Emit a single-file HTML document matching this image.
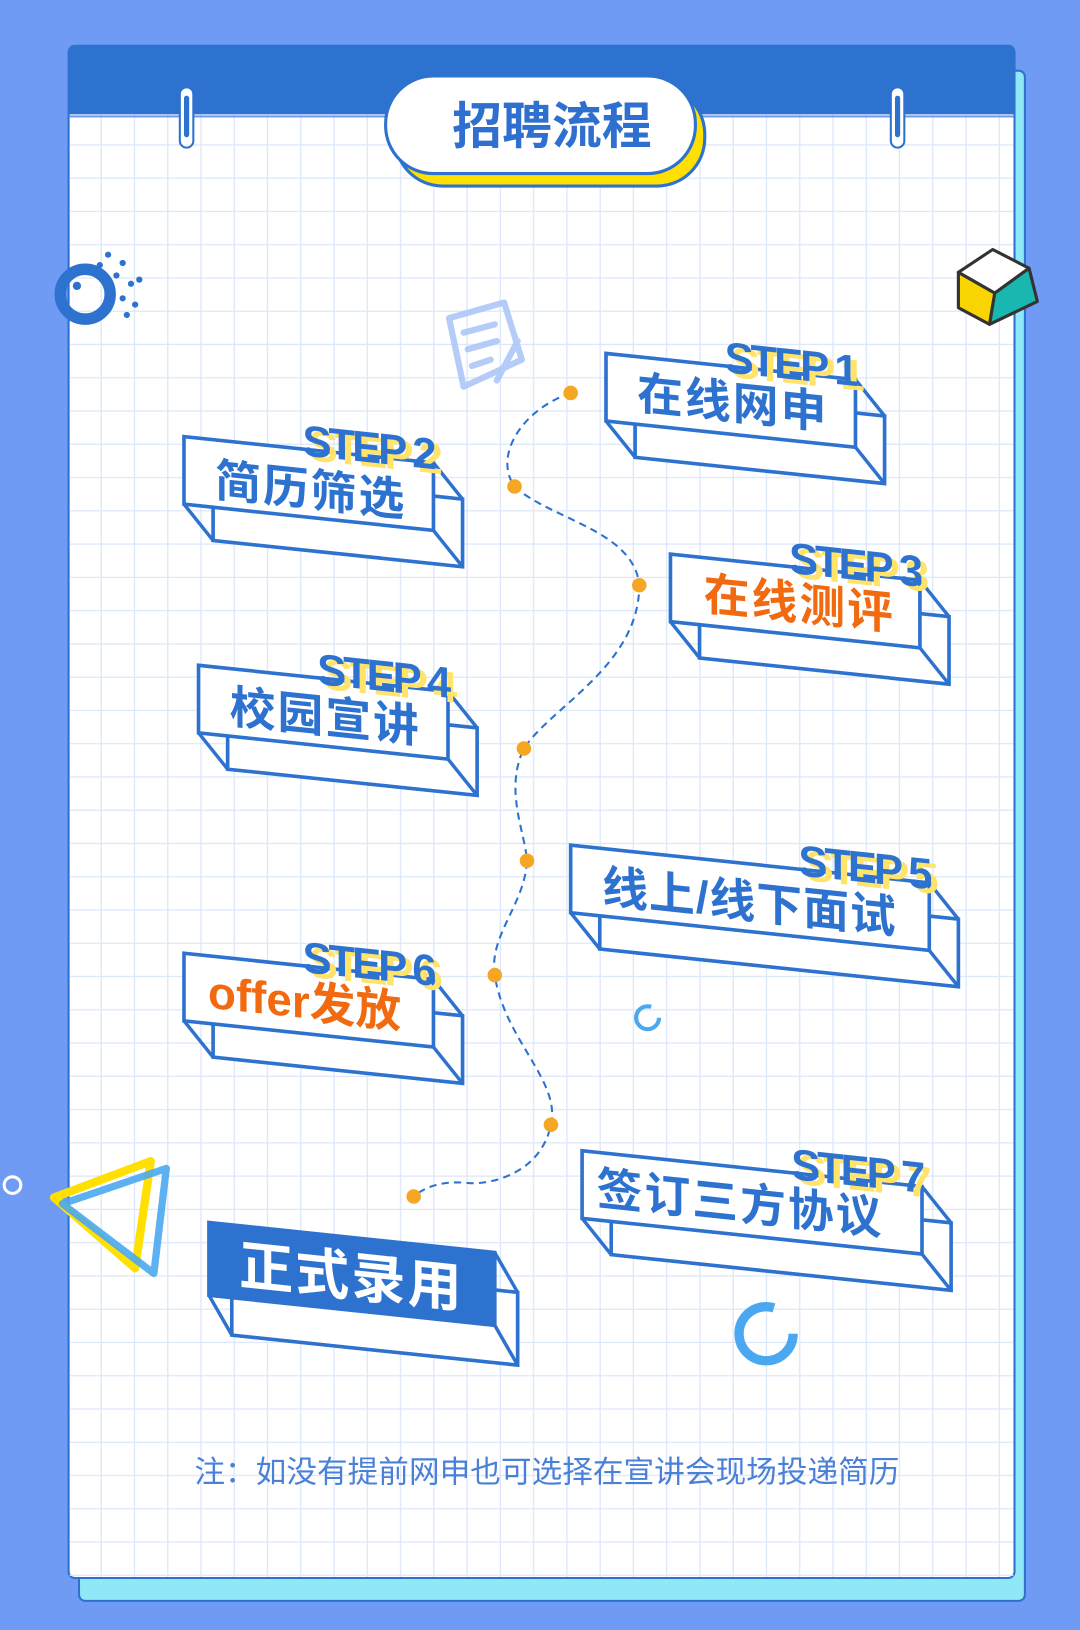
<!DOCTYPE html>
<html><head><meta charset="utf-8"><style>
html,body{margin:0;padding:0;background:#6f9bf5;}
svg{display:block;}
text{font-family:"Liberation Sans","Noto Sans CJK SC",sans-serif;font-weight:bold;}
</style></head><body>
<svg width="1080" height="1630" viewBox="0 0 1039 1568" preserveAspectRatio="none" xmlns="http://www.w3.org/2000/svg">
<defs>
<pattern id="grid" x="66" y="44" width="32" height="32" patternUnits="userSpaceOnUse">
<path d="M32 0V32M0 32H32" stroke="#dce7fb" stroke-width="2.5" fill="none"/>
</pattern>
</defs>
<rect width="1039" height="1568" fill="#6f9bf5"/>
<rect x="76" y="68" width="910" height="1472" rx="6" fill="#8ee8f8" stroke="#2e72cf" stroke-width="2"/>
<rect x="66" y="44" width="910" height="1474" rx="6" fill="#fff" stroke="#2e72cf" stroke-width="2"/>
<rect x="67" y="110" width="908" height="1407" fill="url(#grid)"/>
<path d="M66 110V50Q66 44 72 44H970Q976 44 976 50V110Z" fill="#2e72cf"/>
<line x1="67" y1="112" x2="975" y2="112" stroke="#6f9bf5" stroke-width="2"/>
<g fill="#fff" stroke="#2e72cf" stroke-width="2">
<rect x="173" y="84" width="13" height="58" rx="6.5"/>
<rect x="857" y="84" width="13" height="58" rx="6.5"/>
</g>
<rect x="177" y="92" width="5" height="40" rx="2.5" fill="#2e72cf"/>
<rect x="861" y="92" width="5" height="40" rx="2.5" fill="#2e72cf"/>
<rect x="380" y="83" width="298" height="96" rx="46" fill="#ffe000" stroke="#2e72cf" stroke-width="3"/>
<rect x="371" y="73" width="298" height="94" rx="46" fill="#fff" stroke="#2e72cf" stroke-width="3"/>
<text x="531" y="138" font-size="48" fill="#2e6fcf" text-anchor="middle">招聘流程</text>

<g transform="translate(82,283)">
<circle r="24" fill="none" stroke="#2e72cf" stroke-width="11"/>
<g fill="#2e72cf"><circle cx="22" cy="-38" r="3"/><circle cx="36" cy="-30" r="3"/><circle cx="30" cy="-18" r="3"/><circle cx="44" cy="-10" r="3"/><circle cx="36" cy="4" r="3"/><circle cx="48" cy="10" r="3"/><circle cx="40" cy="20" r="3"/><circle cx="52" cy="-14" r="3"/><circle cx="14" cy="-28" r="3"/><circle cx="26" cy="-2" r="3"/><circle cx="-8" cy="-8" r="4"/></g>
</g>
<g stroke="#333" stroke-width="3" stroke-linejoin="round">
<polygon points="922,262 955,240 990,258 957,282" fill="#fff"/>
<polygon points="922,262 957,282 952,312 922,296" fill="#f8d400"/>
<polygon points="957,282 990,258 998,290 952,312" fill="#1ab6b0"/>
</g>
<g fill="none" stroke="#a9c4f7" stroke-width="6" stroke-linecap="round" stroke-linejoin="round" opacity="0.85">
<path d="M432 306L485 291L502 346L446 372Z"/>
<path d="M446 320L476 312M450 336L478 328M454 352L472 346"/>
<path d="M498 328L478 366"/>
</g>
<circle cx="12" cy="1140" r="8" fill="none" stroke="#fff" stroke-width="3"/>
<polygon points="52,1152 145,1117 130,1220" fill="none" stroke="#ffe000" stroke-width="8" stroke-linejoin="round"/>
<polygon points="60,1158 160,1124 148,1225" fill="none" stroke="#4aa8f0" stroke-width="7" stroke-linejoin="round" opacity="0.9"/>
<circle cx="623" cy="979" r="11" fill="none" stroke="#4aa8f0" stroke-width="4" stroke-dasharray="55 14"/>
<circle cx="737" cy="1283" r="26" fill="none" stroke="#4aa8f0" stroke-width="9" stroke-dasharray="130 34"/>

<path d="M549 378C500 395 475 440 495 468C530 500 610 510 615 563C615 640 530 680 504 720C485 760 505 800 507 828C505 870 470 900 476 938C485 1000 540 1040 530 1082C520 1130 470 1140 450 1138C420 1135 405 1145 398 1151" fill="none" stroke="#2e72cf" stroke-width="2" stroke-dasharray="7 5"/>
<g fill="#f5a623"><circle cx="549" cy="378" r="7"/><circle cx="495" cy="468" r="7"/><circle cx="615" cy="563" r="7"/><circle cx="504" cy="720" r="7"/><circle cx="507" cy="828" r="7"/><circle cx="476" cy="938" r="7"/><circle cx="530" cy="1082" r="7"/><circle cx="398" cy="1151" r="7"/></g>

<g stroke="#2e72cf" stroke-width="3.5" stroke-linejoin="miter">
<g transform="translate(583,340) skewY(6)">
<rect x="28" y="32" width="240" height="65" fill="#fff"/>
<path d="M0 65L28 97M240 0L268 32M240 65L268 97" fill="none"/>
<rect x="0" y="0" width="240" height="65" fill="#fff"/>
<text x="246" y="10" font-size="42" fill="#ffe36a" stroke="none" text-anchor="end" letter-spacing="-3">STEP 1</text>
<text x="240" y="6" font-size="42" fill="#2e72cf" stroke="none" text-anchor="end" letter-spacing="-3">STEP 1</text>
<text x="122" y="50" font-size="44" fill="#2e72cf" stroke="none" text-anchor="middle" letter-spacing="2">在线网申</text>
</g>
<g transform="translate(177,420) skewY(6)">
<rect x="28" y="32" width="240" height="65" fill="#fff"/>
<path d="M0 65L28 97M240 0L268 32M240 65L268 97" fill="none"/>
<rect x="0" y="0" width="240" height="65" fill="#fff"/>
<text x="246" y="10" font-size="42" fill="#ffe36a" stroke="none" text-anchor="end" letter-spacing="-3">STEP 2</text>
<text x="240" y="6" font-size="42" fill="#2e72cf" stroke="none" text-anchor="end" letter-spacing="-3">STEP 2</text>
<text x="122" y="54" font-size="44" fill="#2e72cf" stroke="none" text-anchor="middle" letter-spacing="2">简历筛选</text>
</g>
<g transform="translate(645,533) skewY(6)">
<rect x="28" y="32" width="240" height="65" fill="#fff"/>
<path d="M0 65L28 97M240 0L268 32M240 65L268 97" fill="none"/>
<rect x="0" y="0" width="240" height="65" fill="#fff"/>
<text x="246" y="10" font-size="42" fill="#ffe36a" stroke="none" text-anchor="end" letter-spacing="-3">STEP 3</text>
<text x="240" y="6" font-size="42" fill="#2e72cf" stroke="none" text-anchor="end" letter-spacing="-3">STEP 3</text>
<text x="124" y="50" font-size="44" fill="#f26a10" stroke="none" text-anchor="middle" letter-spacing="2">在线测评</text>
</g>
<g transform="translate(191,640) skewY(6)">
<rect x="28" y="32" width="240" height="65" fill="#fff"/>
<path d="M0 65L28 97M240 0L268 32M240 65L268 97" fill="none"/>
<rect x="0" y="0" width="240" height="65" fill="#fff"/>
<text x="246" y="10" font-size="42" fill="#ffe36a" stroke="none" text-anchor="end" letter-spacing="-3">STEP 4</text>
<text x="240" y="6" font-size="42" fill="#2e72cf" stroke="none" text-anchor="end" letter-spacing="-3">STEP 4</text>
<text x="122" y="52" font-size="44" fill="#2e72cf" stroke="none" text-anchor="middle" letter-spacing="2">校园宣讲</text>
</g>
<g transform="translate(549,813) skewY(6)">
<rect x="28" y="32" width="345" height="65" fill="#fff"/>
<path d="M0 65L28 97M345 0L373 32M345 65L373 97" fill="none"/>
<rect x="0" y="0" width="345" height="65" fill="#fff"/>
<text x="351" y="10" font-size="42" fill="#ffe36a" stroke="none" text-anchor="end" letter-spacing="-3">STEP 5</text>
<text x="345" y="6" font-size="42" fill="#2e72cf" stroke="none" text-anchor="end" letter-spacing="-3">STEP 5</text>
<text x="172" y="52" font-size="44" fill="#2e72cf" stroke="none" text-anchor="middle" letter-spacing="1">线上/线下面试</text>
</g>
<g transform="translate(177,917) skewY(6)">
<rect x="28" y="32" width="240" height="65" fill="#fff"/>
<path d="M0 65L28 97M240 0L268 32M240 65L268 97" fill="none"/>
<rect x="0" y="0" width="240" height="65" fill="#fff"/>
<text x="246" y="10" font-size="42" fill="#ffe36a" stroke="none" text-anchor="end" letter-spacing="-3">STEP 6</text>
<text x="240" y="6" font-size="42" fill="#2e72cf" stroke="none" text-anchor="end" letter-spacing="-3">STEP 6</text>
<text x="116" y="50" font-size="44" fill="#f26a10" stroke="none" text-anchor="middle">offer发放</text>
</g>
<g transform="translate(560,1107) skewY(6)">
<rect x="28" y="32" width="327" height="65" fill="#fff"/>
<path d="M0 65L28 97M327 0L355 32M327 65L355 97" fill="none"/>
<rect x="0" y="0" width="327" height="65" fill="#fff"/>
<text x="333" y="10" font-size="42" fill="#ffe36a" stroke="none" text-anchor="end" letter-spacing="-3">STEP 7</text>
<text x="327" y="6" font-size="42" fill="#2e72cf" stroke="none" text-anchor="end" letter-spacing="-3">STEP 7</text>
<text x="152" y="50" font-size="44" fill="#2e72cf" stroke="none" text-anchor="middle" letter-spacing="2">签订三方协议</text>
</g>
<g transform="translate(201,1176) skewY(6)">
<rect x="22" y="36" width="275" height="70" fill="#fff"/>
<path d="M0 70L22 106M275 0L297 36M275 70L297 106" fill="none"/>
<rect x="0" y="0" width="275" height="70" fill="#2e72cf"/>
<text x="137" y="56" font-size="52" fill="#fff" stroke="none" text-anchor="middle" letter-spacing="2">正式录用</text>
</g>
</g>

<text x="187" y="1426" font-size="29.5" style="font-weight:normal" fill="#4a80d8">注：如没有提前网申也可选择在宣讲会现场投递简历</text>
</svg>
</body></html>
